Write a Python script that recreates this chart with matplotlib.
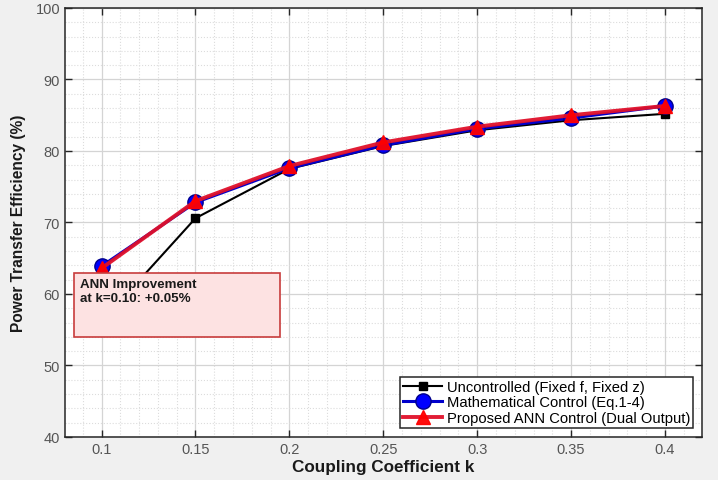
import numpy as np
import matplotlib
matplotlib.use("Agg")
import matplotlib.pyplot as plt
from matplotlib.ticker import MultipleLocator
from matplotlib.patches import Rectangle

plt.rcParams['font.family'] = ['Liberation Sans', 'DejaVu Sans']

# Dados
k = [0.10, 0.15, 0.20, 0.25, 0.30, 0.35, 0.40]
eff_uncontrolled = [56.1, 70.6, 77.5, 80.7, 82.9, 84.3, 85.2]
eff_math = [63.9, 72.8, 77.6, 80.8, 83.1, 84.6, 86.3]
eff_ann = [63.6, 73.0, 77.9, 81.2, 83.4, 85.0, 86.3]

x_ticks = [0.1, 0.15, 0.2, 0.25, 0.3, 0.35, 0.4]
x_ticklabels = ['0.1', '0.15', '0.2', '0.25', '0.3', '0.35', '0.4']
y_ticks = [40, 50, 60, 70, 80, 90, 100]

fig = plt.figure(figsize=(7.18, 4.81), dpi=100, facecolor='#f0f0f0')
ax = fig.add_axes([0.0905, 0.0894, 0.8872, 0.8919])
ax.set_facecolor('white')

ax.plot(k, eff_uncontrolled, color='black', linewidth=1.5, marker='s',
        markersize=6, markerfacecolor='black', markeredgecolor='black',
        label='Uncontrolled (Fixed f, Fixed z)', zorder=3)
ax.plot(k, eff_math, color='#0000cc', linewidth=2.2, marker='o',
        markersize=11, markerfacecolor='#0000ff', markeredgecolor='#00008b',
        label='Mathematical Control (Eq.1-4)', zorder=4)
ax.plot(k, eff_ann, color='#e0102a', linewidth=2.8, marker='^',
        markersize=10, markerfacecolor='red', markeredgecolor='red',
        label='Proposed ANN Control (Dual Output)', zorder=5, alpha=0.95)

# Caixa de anotação
box = Rectangle((0.0851, 54.0), 0.1097, 8.9, transform=ax.transData,
                facecolor='#fde2e2', edgecolor='#c83c3c', linewidth=1.2, zorder=6)
ax.add_patch(box)
ax.text(0.0885, 62.2, 'ANN Improvement\nat k=0.10: +0.05%', fontsize=9.6,
        fontweight='bold', color='#1a1a1a', va='top', ha='left', zorder=7,
        linespacing=1.15)

ax.set_xlim(0.0805, 0.4197)
ax.set_ylim(40, 100)
ax.set_xticks(x_ticks)
ax.set_xticklabels(x_ticklabels)
ax.set_yticks(y_ticks)
ax.xaxis.set_minor_locator(MultipleLocator(0.01))
ax.yaxis.set_minor_locator(MultipleLocator(2))

ax.grid(True, which='major', color='#d4d4d4', linestyle='-', linewidth=0.9)
ax.grid(True, which='minor', color='#dcdcdc', linestyle=':', linewidth=0.8)
ax.set_axisbelow(True)

ax.tick_params(which='major', direction='in', top=True, right=True,
               length=5, width=1, labelsize=10.5, labelcolor='#555555', color='#262626')
ax.tick_params(which='minor', length=0)
for s in ax.spines.values():
    s.set_color('#262626')
    s.set_linewidth(1.1)

ax.set_xlabel('Coupling Coefficient k', fontsize=12.3, fontweight='bold', color='#1a1a1a', labelpad=2)
ax.set_ylabel('Power Transfer Efficiency (%)', fontsize=11.2, fontweight='bold', color='#1a1a1a', labelpad=7)

leg = ax.legend(loc='lower right', fontsize=10.6, frameon=True, fancybox=False,
                edgecolor='#262626', framealpha=1, handlelength=2.7,
                borderpad=0.2, labelspacing=0.12, handletextpad=0.3,
                borderaxespad=0.6)
leg.get_frame().set_linewidth(1.1)
leg.set_zorder(8)

fig.savefig('out.png', dpi=100, facecolor=fig.get_facecolor())
